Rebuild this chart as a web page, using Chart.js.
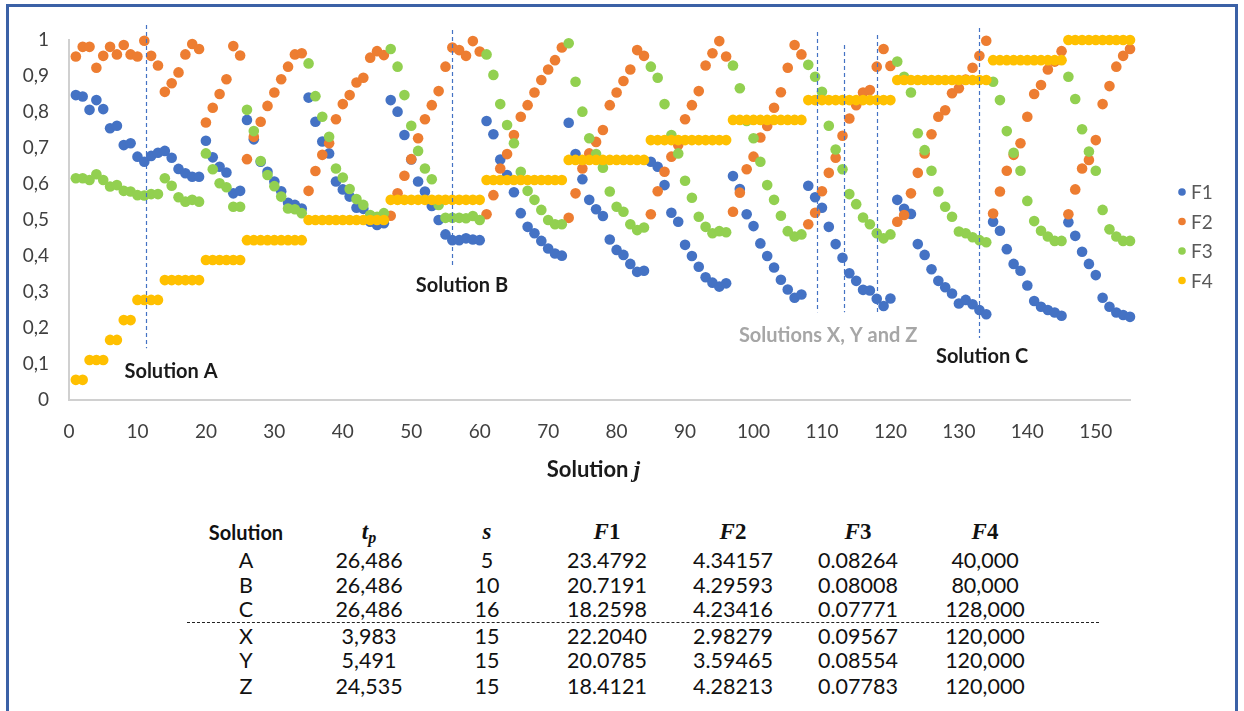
<!DOCTYPE html>
<html>
<head>
<meta charset="utf-8">
<script src="https://cdn.jsdelivr.net/npm/chart.js@4.4.1/dist/chart.umd.min.js"></script>
<style>
  html, body { margin: 0; padding: 0; background: #fff; }
  body { width: 1244px; height: 711px; position: relative; overflow: hidden; font-family: Lato, "Liberation Sans", sans-serif; }
  #frame { position: absolute; left: 6px; top: 4px; width: 1232px; height: 730px; border: 3px solid #3b61a6; box-sizing: border-box; }
  #wrap { position: absolute; left: 0; top: 0; width: 1244px; height: 500px; }
  .cell { position: absolute; width: 160px; text-align: center; font-size: 21.5px; line-height: 24px; color: #111; white-space: nowrap; }
  .hdr { font-weight: bold; font-size: 20px; }
  .math { font-family: "Liberation Serif", "DejaVu Serif", serif; font-weight: bold; font-size: 23px; }
  .math i { font-style: italic; }
  #sep { position: absolute; left: 187px; width: 912px; top: 622px; border-top: 1.3px dashed #222; }
</style>
</head>
<body>
<div id="frame"></div>
<div id="wrap"><canvas id="chart" width="1244" height="500"></canvas></div>
<div id="table"></div>
<div id="sep"></div>
<script>
// Objective values of every solution j (normalised), one array per objective
const F1 = [
  0.847, 0.843, 0.806, 0.833, 0.808, 0.755, 0.762, 0.708, 0.713, 0.676,
  0.662, 0.678, 0.687, 0.692, 0.673, 0.642, 0.630, 0.620, 0.620, 0.720,
  0.674, 0.648, 0.632, 0.574, 0.581, 0.778, 0.724, 0.662, 0.634, 0.607,
  0.580, 0.548, 0.542, 0.532, 0.840, 0.773, 0.718, 0.685, 0.607, 0.585,
  0.565, 0.534, 0.531, 0.495, 0.486, 0.491, 0.833, 0.801, 0.736, 0.668,
  0.607, 0.579, 0.539, 0.500, 0.460, 0.444, 0.444, 0.449, 0.446, 0.444,
  0.775, 0.738, 0.668, 0.625, 0.577, 0.519, 0.481, 0.463, 0.442, 0.421,
  0.407, 0.401, 0.770, 0.683, 0.613, 0.556, 0.530, 0.511, 0.446, 0.417,
  0.403, 0.378, 0.356, 0.359, 0.662, 0.648, 0.597, 0.520, 0.495, 0.431,
  0.400, 0.370, 0.341, 0.326, 0.315, 0.324, 0.622, 0.586, 0.516, 0.483,
  0.435, 0.400, 0.368, 0.334, 0.307, 0.284, 0.293, 0.595, 0.563, 0.534,
  0.481, 0.433, 0.395, 0.352, 0.331, 0.306, 0.304, 0.281, 0.261, 0.282,
  0.556, 0.531, 0.517, 0.433, 0.403, 0.363, 0.331, 0.313, 0.296, 0.268,
  0.278, 0.266, 0.250, 0.238, 0.495, 0.470, 0.419, 0.378, 0.359, 0.318,
  0.275, 0.259, 0.250, 0.243, 0.234, 0.494, 0.456, 0.412, 0.378, 0.347,
  0.284, 0.259, 0.243, 0.236, 0.231
];
const F2 = [
  0.954, 0.981, 0.981, 0.923, 0.956, 0.981, 0.960, 0.986, 0.960, 0.954,
  0.998, 0.956, 0.929, 0.856, 0.880, 0.910, 0.960, 0.989, 0.975, 0.771,
  0.812, 0.850, 0.891, 0.983, 0.957, 0.669, 0.731, 0.773, 0.817, 0.854,
  0.891, 0.926, 0.960, 0.963, 0.581, 0.636, 0.681, 0.713, 0.780, 0.822,
  0.847, 0.882, 0.895, 0.951, 0.969, 0.958, 0.512, 0.574, 0.623, 0.669,
  0.727, 0.780, 0.819, 0.858, 0.926, 0.979, 0.972, 0.956, 0.997, 0.968,
  0.516, 0.569, 0.643, 0.683, 0.736, 0.787, 0.819, 0.854, 0.889, 0.918,
  0.944, 0.979, 0.506, 0.574, 0.643, 0.685, 0.717, 0.750, 0.819, 0.854,
  0.886, 0.918, 0.972, 0.956, 0.516, 0.580, 0.634, 0.676, 0.708, 0.780,
  0.819, 0.858, 0.929, 0.963, 0.997, 0.954, 0.523, 0.576, 0.641, 0.676,
  0.729, 0.761, 0.812, 0.855, 0.923, 0.986, 0.960, 0.488, 0.520, 0.580,
  0.631, 0.673, 0.734, 0.782, 0.819, 0.854, 0.861, 0.926, 0.975, 0.928,
  0.495, 0.514, 0.574, 0.631, 0.685, 0.738, 0.787, 0.805, 0.852, 0.866,
  0.890, 0.923, 0.956, 0.998, 0.518, 0.579, 0.637, 0.681, 0.713, 0.787,
  0.850, 0.875, 0.918, 0.940, 0.969, 0.516, 0.585, 0.643, 0.667, 0.722,
  0.822, 0.872, 0.926, 0.956, 0.975
];
const F3 = [
  0.616, 0.616, 0.611, 0.627, 0.611, 0.593, 0.597, 0.581, 0.579, 0.569,
  0.568, 0.572, 0.572, 0.616, 0.595, 0.563, 0.551, 0.556, 0.551, 0.685,
  0.641, 0.602, 0.591, 0.537, 0.537, 0.806, 0.747, 0.664, 0.625, 0.594,
  0.565, 0.532, 0.530, 0.519, 0.935, 0.844, 0.787, 0.731, 0.643, 0.618,
  0.586, 0.558, 0.542, 0.514, 0.509, 0.519, 0.975, 0.926, 0.847, 0.762,
  0.692, 0.643, 0.613, 0.542, 0.506, 0.506, 0.506, 0.505, 0.511, 0.500,
  0.960, 0.903, 0.822, 0.764, 0.713, 0.634, 0.581, 0.556, 0.528, 0.500,
  0.488, 0.488, 0.991, 0.884, 0.801, 0.727, 0.683, 0.645, 0.579, 0.537,
  0.523, 0.488, 0.472, 0.479, 0.926, 0.895, 0.822, 0.736, 0.685, 0.609,
  0.562, 0.509, 0.481, 0.463, 0.469, 0.466, 0.929, 0.866, 0.775, 0.727,
  0.662, 0.597, 0.556, 0.512, 0.469, 0.454, 0.460, 0.931, 0.898, 0.856,
  0.762, 0.696, 0.641, 0.572, 0.544, 0.507, 0.488, 0.463, 0.449, 0.460,
  0.940, 0.898, 0.854, 0.741, 0.694, 0.637, 0.579, 0.537, 0.509, 0.468,
  0.463, 0.452, 0.444, 0.438, 0.884, 0.833, 0.747, 0.687, 0.637, 0.553,
  0.497, 0.470, 0.454, 0.442, 0.442, 0.898, 0.836, 0.752, 0.690, 0.637,
  0.528, 0.474, 0.454, 0.442, 0.442
];
const F4 = [
  0.056, 0.056, 0.111, 0.111, 0.111, 0.167, 0.167, 0.222, 0.222, 0.278,
  0.278, 0.278, 0.278, 0.333, 0.333, 0.333, 0.333, 0.333, 0.333, 0.389,
  0.389, 0.389, 0.389, 0.389, 0.389, 0.444, 0.444, 0.444, 0.444, 0.444,
  0.444, 0.444, 0.444, 0.444, 0.500, 0.500, 0.500, 0.500, 0.500, 0.500,
  0.500, 0.500, 0.500, 0.500, 0.500, 0.500, 0.556, 0.556, 0.556, 0.556,
  0.556, 0.556, 0.556, 0.556, 0.556, 0.556, 0.556, 0.556, 0.556, 0.556,
  0.611, 0.611, 0.611, 0.611, 0.611, 0.611, 0.611, 0.611, 0.611, 0.611,
  0.611, 0.611, 0.667, 0.667, 0.667, 0.667, 0.667, 0.667, 0.667, 0.667,
  0.667, 0.667, 0.667, 0.667, 0.722, 0.722, 0.722, 0.722, 0.722, 0.722,
  0.722, 0.722, 0.722, 0.722, 0.722, 0.722, 0.778, 0.778, 0.778, 0.778,
  0.778, 0.778, 0.778, 0.778, 0.778, 0.778, 0.778, 0.833, 0.833, 0.833,
  0.833, 0.833, 0.833, 0.833, 0.833, 0.833, 0.833, 0.833, 0.833, 0.833,
  0.889, 0.889, 0.889, 0.889, 0.889, 0.889, 0.889, 0.889, 0.889, 0.889,
  0.889, 0.889, 0.889, 0.889, 0.944, 0.944, 0.944, 0.944, 0.944, 0.944,
  0.944, 0.944, 0.944, 0.944, 0.944, 1.000, 1.000, 1.000, 1.000, 1.000,
  1.000, 1.000, 1.000, 1.000, 1.000
];

const seriesNames = ['F1', 'F2', 'F3', 'F4'];
const seriesColors = ['#4472C4', '#ED7D31', '#92D050', '#FFC000'];
const xTickStep = 10;
const yTickStep = 0.1;

// Highlighted solutions: index j and the vertical span of their marker line
const markerNames = ['A', 'B', 'X', 'Y', 'Z', 'C'];
const markerJ     = [11.2, 55.9, 109.3, 113.2, 118.0, 132.9];
const markerTop   = [1.042, 1.028, 1.022, 0.986, 1.014, 1.033];
const markerBottom= [0.144, 0.375, 0.244, 0.244, 0.244, 0.172];

// Labels written on the plot (position in data units)
const noteTexts = ['Solution A', 'Solution B', 'Solutions X, Y and Z', 'Solution C'];
const noteJ     = [14.9, 57.4, 110.9, 133.4];
const noteY     = [0.078, 0.319, 0.178, 0.122];
const noteColor = ['#1a1a1a', '#1a1a1a', '#a6a6a6', '#1a1a1a'];

// Summary table under the chart
const tableCols  = ['Solution', 't_p', 's', 'F1', 'F2', 'F3', 'F4'];
const tableRows = [
  ['A', '26,486', '5',  '23.4792', '4.34157', '0.08264', '40,000'],
  ['B', '26,486', '10', '20.7191', '4.29593', '0.08008', '80,000'],
  ['C', '26,486', '16', '18.2598', '4.23416', '0.07771', '128,000'],
  ['X', '3,983',  '15', '22.2040', '2.98279', '0.09567', '120,000'],
  ['Y', '5,491',  '15', '20.0785', '3.59465', '0.08554', '120,000'],
  ['Z', '24,535', '15', '18.4121', '4.28213', '0.07783', '120,000']
];

const FONT = 'Lato, "Liberation Sans", sans-serif';
const values = [F1, F2, F3, F4];

const datasets = values.map((arr, k) => ({
  label: seriesNames[k],
  data: arr.map((v, i) => ({ x: i + 1, y: v })),
  backgroundColor: seriesColors[k],
  borderWidth: 0,
  pointRadius: 5.3,
  pointHoverRadius: 5.3,
  showLine: false,
  clip: false,
  order: 4 - k
}));

const overlay = {
  id: 'overlay',
  afterDraw(chart) {
    const ctx = chart.ctx;
    const xs = chart.scales.x, ys = chart.scales.y;
    ctx.save();
    // dashed marker lines
    ctx.strokeStyle = '#4472C4';
    ctx.lineWidth = 1.2;
    ctx.setLineDash([4, 3]);
    markerJ.forEach((j, i) => {
      const px = Math.round(xs.getPixelForValue(j)) + 0.5;
      ctx.beginPath();
      ctx.moveTo(px, ys.getPixelForValue(markerTop[i]));
      ctx.lineTo(px, ys.getPixelForValue(markerBottom[i]));
      ctx.stroke();
    });
    ctx.setLineDash([]);
    // notes
    ctx.font = 'bold 20px ' + FONT;
    ctx.textAlign = 'center';
    ctx.textBaseline = 'middle';
    noteTexts.forEach((t, i) => {
      ctx.fillStyle = noteColor[i];
      ctx.fillText(t, xs.getPixelForValue(noteJ[i]), ys.getPixelForValue(noteY[i]));
    });
    // x axis title: "Solution j" with an italic j
    const cx = (xs.left + xs.right) / 2 - 6;
    const ty = 470;
    ctx.font = 'bold 22px ' + FONT;
    const w1 = ctx.measureText('Solution ').width;
    ctx.font = 'bold italic 23px "Liberation Serif", serif';
    const w2 = ctx.measureText('j').width;
    const start = cx - (w1 + w2) / 2;
    ctx.textAlign = 'left';
    ctx.fillStyle = '#1a1a1a';
    ctx.font = 'bold 22px ' + FONT;
    ctx.fillText('Solution ', start, ty);
    ctx.font = 'bold italic 23px "Liberation Serif", serif';
    ctx.fillText('j', start + w1, ty + 1);
    // legend
    ctx.font = '19px ' + FONT;
    ctx.textBaseline = 'middle';
    seriesNames.forEach((name, k) => {
      const ly = 192 + k * 29.5;
      ctx.fillStyle = seriesColors[k];
      ctx.beginPath();
      ctx.arc(1182, ly, 3.8, 0, Math.PI * 2);
      ctx.fill();
      ctx.fillStyle = '#595959';
      ctx.fillText(name, 1191, ly + 1);
    });
    ctx.restore();
  }
};

new Chart(document.getElementById('chart'), {
  type: 'scatter',
  data: { datasets },
  options: {
    responsive: false,
    animation: false,
    devicePixelRatio: 1,
    layout: { padding: { left: 0, top: 40, right: 114, bottom: 0 } },
    plugins: { legend: { display: false }, tooltip: { enabled: false } },
    scales: {
      x: {
        type: 'linear', min: 0, max: 155,
        grid: { display: true, color: 'rgba(0,0,0,0)', drawTicks: false },
        border: { display: true, color: '#d0d0d0', width: 2 },
        ticks: { stepSize: xTickStep, includeBounds: false, autoSkip: false, maxRotation: 0,
                 padding: 20, color: '#404040', font: { family: FONT, size: 19 } },
        afterFit(s) { s.height = 100; }
      },
      y: {
        min: 0, max: 1,
        grid: { display: true, color: 'rgba(0,0,0,0)', drawTicks: false },
        border: { display: true, color: '#d0d0d0', width: 2 },
        ticks: { stepSize: yTickStep, padding: 20, color: '#404040', font: { family: FONT, size: 19 },
                 callback: v => (Math.round(v * 10) / 10).toString().replace('.', ',') },
        afterFit(s) { s.width = 69; }
      }
    }
  },
  plugins: [overlay]
});

// table
const colCenters = [246, 369, 487, 607, 733, 858, 985];
const rowCenters = [560, 585, 609, 636, 660, 686];
const headerY = 532;
const tbl = document.getElementById('table');
function cell(html, cx, cy, cls) {
  const d = document.createElement('div');
  d.className = 'cell ' + (cls || '');
  d.style.left = (cx - 80) + 'px';
  d.style.top = (cy - 12) + 'px';
  d.innerHTML = html;
  tbl.appendChild(d);
}
tableCols.forEach((c, k) => {
  if (k === 0) { cell(c, colCenters[k], headerY, 'hdr'); return; }
  let html;
  if (c === 't_p') html = '<i>t</i><sub style="font-size:16px;vertical-align:-4px"><i>p</i></sub>';
  else if (c === 's') html = '<i>s</i>';
  else html = '<i>' + c[0] + '</i>' + c.slice(1);
  cell(html, colCenters[k], headerY, 'math');
});
tableRows.forEach((r, i) => {
  r.forEach((v, k) => cell(v, colCenters[k], rowCenters[i]));
});
</script>
</body>
</html>
